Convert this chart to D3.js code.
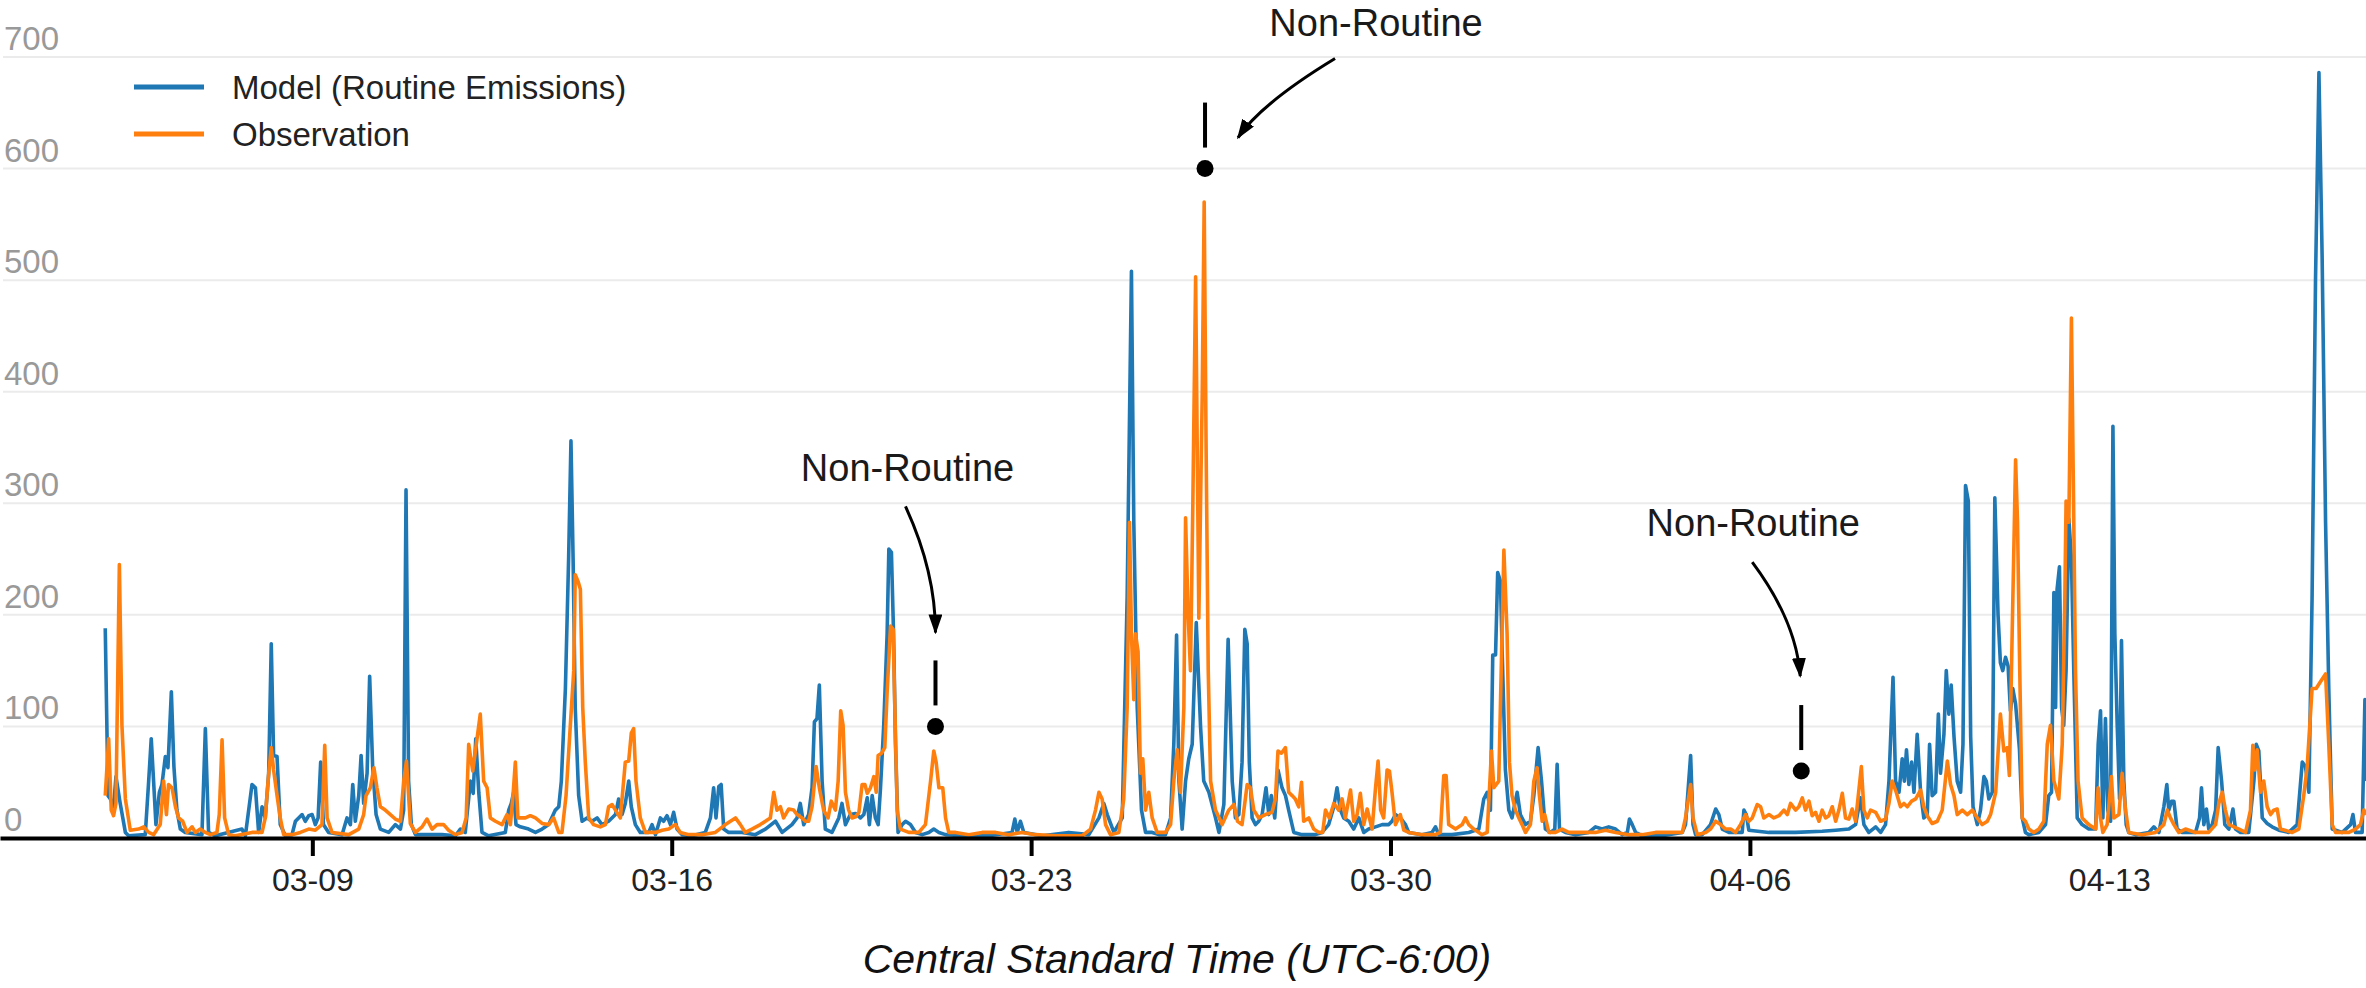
<!DOCTYPE html>
<html>
<head>
<meta charset="utf-8">
<script src="https://cdn.jsdelivr.net/npm/d3@7/dist/d3.min.js"></script>
<style>
  html, body { margin: 0; padding: 0; background: #ffffff; }
  svg { display: block; }
  text { font-family: "Liberation Sans", Arial, Helvetica, sans-serif; }
</style>
</head>
<body>
<svg id="chart" width="2366" height="988"></svg>
<script>
// ---------------- DATA ----------------
// Hours counted from 2019-03-04 00:00 (CST)
const seriesNames = ["Model (Routine Emissions)", "Observation"];

const modelHours = [23.2,24.5,25.6,27.1,28.2,30.2,32.6,34.1,41.9,43.5,44.7,45.8,46.9,48.5,49.7,51.3,52.5,54.1,55.3,56.7,58.3,60.6,68.4,70.0,71.5,74.7,87.1,88.7,91.8,93.4,94.9,96.5,98.0,99.6,100.8,101.9,103.5,105.0,107.4,110.5,112.1,113.6,115.2,116.7,118.3,119.9,121.4,122.7,123.9,125.2,127.6,133.9,136.2,137.8,138.9,140.1,141.7,142.8,144.0,145.6,146.8,148.2,149.8,151.8,155.7,158.8,161.2,162.7,163.8,165.0,166.3,168.2,174.4,180.6,186.9,189.2,191.5,193.9,195.2,196.4,197.8,199.3,202.4,210.2,211.8,213.0,214.1,215.2,217.2,221.1,224.3,227.4,230.5,233.6,235.2,236.4,238.3,239.8,240.9,241.9,242.9,244.5,246.1,248.4,250.7,253.1,255.4,258.5,261.7,263.2,264.8,266.3,267.9,269.1,271.0,273.3,277.2,278.8,280.4,282.7,284.2,285.8,287.4,288.9,290.5,292.8,297.5,303.7,306.1,307.6,308.7,310.0,311.1,312.3,314.6,320.9,327.1,331.8,336.5,339.6,344.2,346.6,348.1,349.7,352.0,353.6,354.7,355.9,357.0,358.3,359.8,362.9,366.1,367.6,369.2,371.5,373.9,376.2,377.8,379.4,380.4,381.7,383.2,384.5,385.6,387.1,388.7,389.5,390.7,391.7,392.6,393.8,395.7,397.3,399.6,402.0,405.1,408.2,410.5,412.9,416.0,423.8,436.2,447.1,448.4,449.5,451.0,452.6,461.2,473.6,483.0,487.7,490.0,491.6,494.7,498.6,500.9,502.9,504.0,505.6,507.6,509.5,512.6,515.7,518.8,521.2,522.7,524.0,525.1,526.6,528.2,529.7,531.3,533.2,535.2,536.7,539.1,542.2,543.8,546.1,548.1,550.0,551.5,553.1,554.6,555.9,557.0,558.0,559.3,560.9,562.4,564.0,565.8,567.1,568.3,569.9,571.4,573.3,574.9,576.4,578.8,582.7,588.9,592.0,595.1,597.5,599.0,600.6,602.1,604.5,606.8,609.2,611.5,613.8,617.0,620.1,623.2,624.7,626.3,628.6,631.0,632.5,638.8,643.4,645.0,646.6,652.8,660.6,665.3,667.6,669.2,670.7,671.8,673.1,674.1,675.4,676.2,677.7,679.3,680.8,683.2,684.7,687.1,689.4,691.0,693.0,694.6,696.4,698.8,700.8,701.9,703.0,705.8,710.5,716.7,719.8,722.9,726.0,729.2,732.3,734.7,735.7,737.0,738.6,741.7,751.0,760.4,761.9,764.3,765.4,766.6,769.7,773.6,776.0,777.5,779.1,782.2,788.4,789.2,790.3,791.5,800.9,813.4,825.8,832.1,838.3,841.4,843.7,845.3,847.6,850.8,853.1,855.4,857.0,858.9,860.1,861.7,863.2,864.2,865.2,866.3,867.6,868.7,870.2,871.8,873.3,874.9,876.0,877.2,878.8,880.1,881.1,882.7,883.8,885.0,886.1,887.4,888.9,890.5,891.6,892.8,894.1,895.2,896.3,898.3,899.8,901.4,902.5,903.7,905.3,906.5,908.0,909.1,910.2,911.5,912.7,913.8,914.9,916.2,918.0,919.3,920.8,922.4,927.1,930.2,931.7,933.0,934.1,934.9,935.6,936.7,937.7,938.7,939.8,941.1,942.3,943.4,945.0,947.3,950.4,953.6,954.8,955.9,957.0,958.2,959.3,960.6,961.7,962.6,963.7,964.8,965.7,966.8,967.9,969.1,972.3,978.5,980.8,983.2,985.5,986.9,987.8,989.1,990.2,991.7,994.1,1000.3,1002.2,1003.1,1004.2,1005.4,1006.5,1008.1,1009.7,1010.9,1012.5,1014.0,1015.9,1017.8,1019.0,1021.3,1025.2,1027.6,1028.7,1029.9,1031.5,1033.8,1036.1,1039.3,1043.9,1047.8,1050.2,1051.7,1053.3,1054.8,1056.4,1058.0,1059.5,1061.1,1062.6,1064.2,1068.9,1072.8,1073.9,1075.1,1078.2,1079.5,1080.2];
const modelValues = [188,38,35,28,55,31,5,2,3,51,89,51,12,41,48,73,63,131,64,25,8,5,3,98,5,2,8,2,48,45,5,28,18,58,174,74,73,12,2,3,15,18,21,15,20,21,12,18,68,12,5,3,18,12,48,15,38,74,31,58,145,64,21,8,5,12,8,25,312,51,12,3,3,3,2,8,5,51,40,89,41,5,2,5,25,31,41,12,10,8,5,8,12,25,28,51,134,250,356,250,117,38,15,18,15,18,12,15,21,35,21,31,51,28,12,5,5,12,3,18,15,20,12,23,8,3,2,5,18,45,18,46,48,8,5,5,3,8,15,5,12,18,31,12,21,45,104,107,137,51,8,5,18,31,12,21,22,18,21,36,12,38,18,12,45,101,183,259,256,183,84,5,12,15,12,5,3,5,8,5,3,2,2,5,17,5,15,5,2,5,3,18,31,21,5,18,216,508,283,117,25,5,5,3,3,18,84,182,51,8,51,71,84,193,100,51,41,18,5,30,178,51,18,21,68,187,174,68,18,12,15,21,45,21,38,18,61,45,38,25,5,3,3,5,12,28,45,25,18,15,8,18,5,8,10,12,12,15,21,18,12,5,3,5,10,3,3,5,8,35,41,25,164,164,238,230,167,61,25,18,41,21,12,15,38,81,51,8,5,8,66,8,5,3,5,10,8,10,8,3,5,17,12,5,2,2,5,12,74,12,3,3,12,26,21,8,5,5,25,21,7,5,5,6,7,8,12,36,12,5,10,5,12,51,144,51,41,71,51,79,48,68,41,93,41,18,21,84,38,41,111,58,93,150,111,137,91,51,41,84,316,302,91,28,12,25,55,51,35,41,305,200,157,150,162,154,114,134,120,80,18,5,3,5,12,38,41,220,117,223,243,117,101,150,286,250,150,18,12,8,8,84,114,18,107,25,15,369,183,101,35,177,51,12,5,3,5,10,5,28,48,25,33,33,8,5,5,18,45,12,26,8,12,25,81,51,12,8,26,8,5,5,51,84,78,18,13,10,7,5,12,68,64,41,216,500,686,520,283,134,8,5,12,21,5,5,124,51];

const obsHours = [23.2,24.8,26.0,27.1,28.2,29.8,31.0,32.6,34.9,38.8,41.2,43.5,45.8,48.9,50.5,51.8,52.8,54.4,56.0,57.5,59.4,61.4,63.8,65.3,67.6,70.0,72.3,75.4,76.5,77.8,79.0,80.9,84.0,91.8,96.5,98.0,99.6,100.8,101.9,103.5,105.0,106.6,110.5,114.4,118.3,121.4,124.5,125.8,126.9,129.2,137.0,141.7,144.0,145.1,147.1,148.8,150.2,151.8,154.1,156.5,158.8,161.2,162.7,164.0,165.8,168.2,171.3,173.6,176.0,178.3,181.4,183.7,186.9,190.0,191.9,193.1,195.0,198.5,200.1,201.7,203.2,205.6,208.7,211.0,212.6,213.8,214.9,216.1,219.6,221.9,224.3,227.4,230.5,232.8,235.2,236.7,238.6,240.6,242.2,242.9,244.2,245.3,246.4,247.6,249.2,251.5,254.6,257.0,258.5,260.1,261.7,264.0,266.3,267.9,269.1,270.2,271.3,273.3,275.7,280.4,283.5,286.6,289.7,292.0,296.0,302.2,308.4,313.1,317.8,320.1,322.4,325.5,329.4,331.8,334.1,335.7,337.2,338.8,340.3,342.7,345.0,346.6,348.9,350.5,352.0,353.6,355.5,357.0,359.0,361.1,362.6,364.5,365.8,367.0,368.1,369.2,370.7,372.3,373.9,375.5,377.0,378.3,379.4,380.9,382.5,383.6,384.5,386.1,387.6,388.7,390.3,391.5,392.3,393.4,394.9,398.8,403.5,406.6,409.0,410.5,411.6,412.9,414.7,416.0,417.5,420.7,426.9,433.1,439.4,445.6,451.8,458.0,467.4,479.9,483.8,486.1,487.7,489.2,490.8,493.1,497.0,499.3,500.9,502.0,502.9,504.0,504.8,506.0,507.1,508.2,509.5,511.0,512.6,514.9,518.8,521.2,522.7,524.3,525.8,527.4,528.2,529.4,530.5,531.6,532.9,534.4,536.0,536.9,537.8,538.8,539.9,542.2,545.3,548.4,550.8,552.5,554.6,557.0,558.5,560.1,562.4,565.5,568.6,570.2,571.4,573.0,574.9,576.4,578.0,579.5,581.1,582.4,583.4,585.8,588.1,590.5,592.3,593.6,595.4,597.5,599.8,601.4,602.9,605.3,606.8,608.4,609.9,611.5,613.1,615.4,617.0,618.2,619.4,620.8,622.4,623.5,624.7,626.3,628.6,630.2,632.5,638.8,645.0,647.3,648.9,650.0,651.2,654.4,657.5,659.0,660.6,662.9,666.8,669.2,671.2,672.3,674.6,677.0,678.5,679.6,680.8,682.4,684.0,685.5,687.1,689.4,691.0,692.5,693.6,694.9,696.1,698.0,701.1,704.2,707.3,713.6,719.8,724.5,729.2,735.4,741.7,747.9,754.1,760.4,761.9,764.3,765.4,767.4,771.3,773.6,776.0,778.3,780.6,783.0,785.3,787.6,790.0,791.5,793.1,795.4,797.0,798.5,800.9,803.2,805.6,807.9,809.5,811.0,813.4,814.9,816.5,818.0,819.6,821.1,822.7,824.3,825.8,827.4,828.9,830.5,832.1,833.6,835.2,836.7,838.3,839.8,841.4,844.1,845.3,846.9,848.4,850.8,853.1,855.4,857.0,858.5,860.4,862.4,864.0,865.6,867.6,869.5,871.8,873.3,874.9,877.2,879.6,881.9,884.3,885.8,887.4,888.9,891.3,893.6,896.0,898.3,900.6,903.0,904.5,906.9,909.1,910.7,912.3,913.3,914.6,916.2,917.1,918.0,919.3,920.8,922.4,924.7,927.1,929.4,931.0,932.5,934.1,936.4,938.0,939.2,939.8,941.1,942.3,943.4,944.2,945.4,947.3,950.4,953.6,954.8,955.9,957.0,959.0,961.0,962.1,964.5,966.0,967.6,969.1,975.4,981.6,985.5,987.1,988.6,990.2,992.5,995.6,1000.3,1006.5,1009.7,1011.2,1012.8,1014.3,1015.9,1020.6,1023.7,1026.0,1027.1,1028.0,1029.1,1030.7,1032.2,1033.8,1035.4,1036.9,1038.5,1040.0,1045.5,1048.6,1050.9,1052.5,1054.8,1056.7,1058.7,1061.1,1062.6,1064.2,1065.8,1072.0,1075.1,1077.4,1079.0,1080.2];
const obsValues = [38,89,25,20,31,245,101,35,7,8,10,5,3,12,51,21,48,45,28,18,15,5,10,5,8,5,3,5,21,88,18,3,2,5,5,18,58,81,61,38,18,3,3,5,8,7,12,83,18,5,3,8,21,38,45,63,45,28,25,21,17,15,51,69,13,5,10,17,8,12,12,7,3,5,18,84,60,111,51,45,18,15,12,21,12,38,68,18,18,20,18,13,12,18,5,5,38,101,150,236,230,223,117,68,18,12,10,12,28,30,25,18,68,69,94,98,51,18,5,5,7,8,12,5,3,3,5,12,18,12,5,8,12,15,18,41,25,28,18,26,25,21,18,15,15,28,64,45,25,18,33,25,51,114,101,41,25,18,19,23,48,48,40,45,55,41,74,76,81,131,190,187,117,25,8,5,5,12,51,78,68,45,45,18,5,5,3,5,5,3,5,3,2,2,8,25,41,35,12,3,5,35,117,283,183,124,183,167,58,71,25,41,18,5,5,12,51,79,41,117,287,200,150,300,503,197,400,570,350,150,51,25,12,25,30,15,12,48,45,25,18,21,23,35,78,76,81,41,38,35,28,50,15,18,8,5,5,25,18,31,25,35,18,43,15,21,40,12,26,8,45,69,25,18,61,60,41,12,21,7,5,3,3,5,56,56,12,8,12,18,12,8,3,5,78,45,51,258,183,68,38,25,18,12,5,12,51,63,38,15,21,5,5,8,5,5,5,7,5,3,3,5,5,5,18,48,18,3,5,8,15,12,8,8,5,12,21,15,18,30,28,18,21,18,20,25,21,31,25,28,36,25,33,20,23,15,25,18,20,28,15,25,40,18,17,26,15,64,25,18,25,23,15,17,31,51,41,28,31,28,33,35,43,28,20,13,15,25,69,48,38,21,25,21,25,18,12,15,21,41,111,78,81,56,183,339,283,167,18,15,8,5,8,15,84,101,51,35,84,213,302,283,466,283,150,51,18,12,8,45,18,5,12,55,18,21,58,25,5,3,5,12,25,18,12,5,8,5,5,12,31,41,25,12,8,5,25,83,61,79,41,51,28,21,25,26,8,5,8,38,64,134,134,140,147,84,12,5,5,8,12,25,21];

const yTickValues = [0, 100, 200, 300, 400, 500, 600, 700];
const xTickLabels = ["03-09", "03-16", "03-23", "03-30", "04-06", "04-13"];
const annotationHours = [411.3, 537.3, 816.0];
const annotationValues = [100, 600, 60];
const annotationLabel = "Non-Routine";
const xAxisTitle = "Central Standard Time (UTC-6:00)";

// ---------------- LAYOUT ----------------
const W = 2366, H = 988;
const yZero = 838, yTop = 57;
const colors = ["#1f77b4", "#ff7f0e"];
const FONT = '"Liberation Sans", Arial, Helvetica, sans-serif';

const origin = Date.UTC(2019, 2, 4, 0, 0);
const hourToDate = h => new Date(origin + h * 3600 * 1000);

const x = d3.scaleUtc()
  .domain([new Date(Date.UTC(2019, 2, 2, 22, 0)), new Date(Date.UTC(2019, 3, 18, 0, 0))])
  .range([0, W]);
const y = d3.scaleLinear().domain([0, 700]).range([yZero, yTop]);

const svg = d3.select("#chart");
svg.append("rect").attr("width", W).attr("height", H).attr("fill", "#fff");

// gridlines + y labels
const grid = svg.append("g");
grid.selectAll("line").data(yTickValues).join("line")
  .attr("x1", 3).attr("x2", W)
  .attr("y1", d => y(d)).attr("y2", d => y(d))
  .attr("stroke", "#ebebeb").attr("stroke-width", 2);
grid.selectAll("text").data(yTickValues).join("text")
  .attr("x", 4).attr("y", d => y(d) - 7)
  .attr("font-size", 33).attr("fill", "#999")
  .text(d => d);

// lines
const mk = (hours, vals) => hours.map((h, i) => ({ t: hourToDate(h), v: vals[i] }));
const lineGen = d3.line().x(d => x(d.t)).y(d => y(d.v));
const series = [mk(modelHours, modelValues), mk(obsHours, obsValues)];
svg.append("g").selectAll("path").data(series).join("path")
  .attr("d", lineGen)
  .attr("fill", "none")
  .attr("stroke", (d, i) => colors[i])
  .attr("stroke-width", 3.6)
  .attr("stroke-linejoin", "round");

// x axis
const parseTick = d3.utcParse("%Y-%m-%d");
const xAxis = d3.axisBottom(x)
  .tickValues(xTickLabels.map(s => parseTick("2019-" + s)))
  .tickFormat(d3.utcFormat("%m-%d"))
  .tickSize(18).tickSizeOuter(0).tickPadding(12);
const gx = svg.append("g").attr("transform", `translate(0,${yZero})`).call(xAxis);
gx.select(".domain").attr("stroke", "#000").attr("stroke-width", 4);
gx.selectAll(".tick line").attr("stroke", "#000").attr("stroke-width", 4);
gx.selectAll(".tick text").attr("font-size", 32).attr("fill", "#222").attr("font-family", FONT);

// x title
svg.append("text")
  .attr("x", 1177).attr("y", 973)
  .attr("text-anchor", "middle")
  .attr("font-size", 41).attr("font-style", "italic").attr("fill", "#111")
  .text(xAxisTitle);

// legend
const legend = svg.append("g");
seriesNames.forEach((name, i) => {
  const ly = 87 + i * 47;
  legend.append("line").attr("x1", 134).attr("x2", 204).attr("y1", ly).attr("y2", ly)
    .attr("stroke", colors[i]).attr("stroke-width", 5);
  legend.append("text").attr("x", 232).attr("y", ly + 12)
    .attr("font-size", 33).attr("fill", "#222").text(name);
});

// annotations
const defs = svg.append("defs");
defs.append("marker").attr("id", "arrowhead")
  .attr("viewBox", "0 0 20 14").attr("refX", 18).attr("refY", 7)
  .attr("markerWidth", 20).attr("markerHeight", 14)
  .attr("markerUnits", "userSpaceOnUse").attr("orient", "auto")
  .append("path").attr("d", "M0,0 L20,7 L0,14 Z").attr("fill", "#000");

// layout offsets (relative to the marked point): text anchor, arrow start, control, end
const annLayout = [
  { tx: -28, ty: -245, sx: -30, sy: -220, cx: 0, cy: -155, ex: 0, ey: -94 },
  { tx: 171, ty: -133, sx: 130, sy: -110, cx: 56, cy: -65, ex: 33, ey: -31 },
  { tx: -48, ty: -235, sx: -49, sy: -209, cx: -5, cy: -150, ex: -1, ey: -95 }
];
const ann = svg.append("g");
annotationHours.forEach((h, i) => {
  const px = x(hourToDate(h)), py = y(annotationValues[i]);
  const L = annLayout[i];
  ann.append("circle").attr("cx", px).attr("cy", py).attr("r", 8.5).attr("fill", "#000");
  ann.append("line").attr("x1", px).attr("x2", px).attr("y1", py - 66).attr("y2", py - 21)
    .attr("stroke", "#000").attr("stroke-width", 4);
  ann.append("path")
    .attr("d", `M${px + L.sx},${py + L.sy} Q${px + L.cx},${py + L.cy} ${px + L.ex},${py + L.ey}`)
    .attr("fill", "none").attr("stroke", "#000").attr("stroke-width", 3)
    .attr("marker-end", "url(#arrowhead)");
  ann.append("text").attr("x", px + L.tx).attr("y", py + L.ty)
    .attr("text-anchor", "middle").attr("font-size", 38).attr("fill", "#1a1a1a")
    .text(annotationLabel);
});
</script>
</body>
</html>
